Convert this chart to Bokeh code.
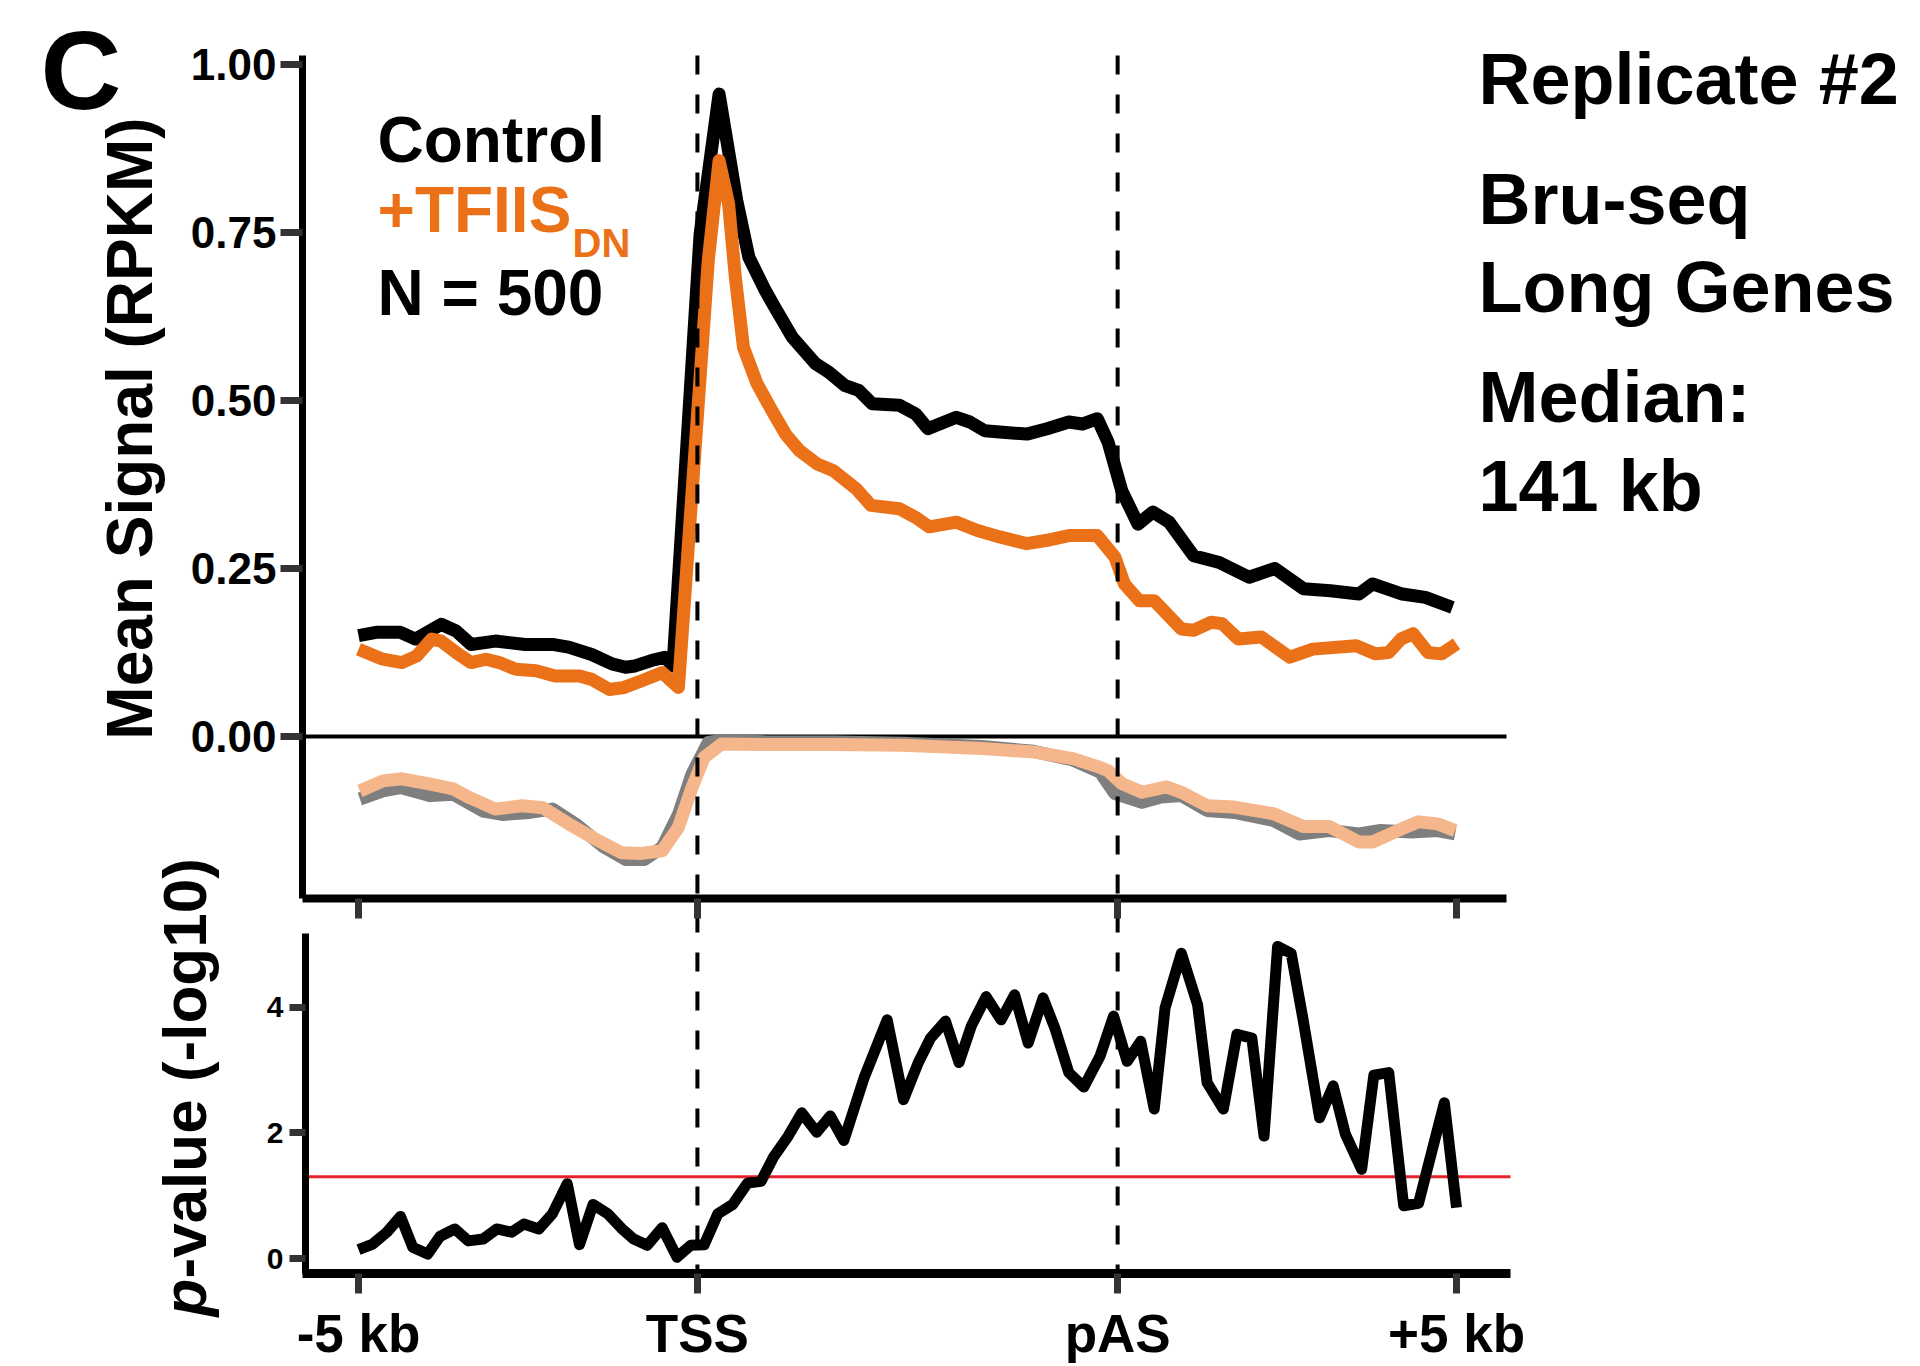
import math
from bokeh.plotting import figure
from bokeh.models import (Label, FixedTicker, Range1d, NumeralTickFormatter, LinearAxis)
from bokeh.embed import file_html
from bokeh.resources import INLINE

# ---------------- data ----------------
# x positions are metagene bins: -5 kb = 0, TSS = 25, pAS = 56, +5 kb = 81
tick_pos = [0, 25, 56, 81]
tick_labels = ["-5 kb", "TSS", "pAS", "+5 kb"]

ctrl_x = [0, 1.3, 3.1, 4.2, 6.1, 7.2, 8.3, 10.1, 12.3, 14.3, 15.5, 17.2, 18.7, 19.7, 20.4,
          21.6, 22.6, 23.2, 25.2, 26.6, 27.9, 28.8, 30.0, 30.7, 32.0, 33.7, 34.7, 35.9, 36.9,
          37.9, 39.9, 41.1, 42.0, 44.1, 45.1, 46.2, 47.3, 49.3, 50.8, 52.4, 53.4, 54.5, 55.3,
          56.3, 57.5, 58.6, 59.8, 61.6, 63.5, 65.7, 67.6, 69.7, 71.7, 73.8, 74.8, 77.0, 78.7, 80.7]
ctrl_y = [0.150, 0.155, 0.155, 0.145, 0.167, 0.157, 0.137, 0.142, 0.137, 0.137, 0.133, 0.122,
          0.108, 0.103, 0.105, 0.113, 0.118, 0.105, 0.748, 0.956, 0.798, 0.713, 0.664, 0.639,
          0.594, 0.555, 0.542, 0.522, 0.515, 0.495, 0.493, 0.480, 0.458, 0.475, 0.468, 0.455,
          0.453, 0.450, 0.458, 0.468, 0.465, 0.473, 0.438, 0.366, 0.316, 0.334, 0.319, 0.269,
          0.259, 0.237, 0.250, 0.220, 0.217, 0.212, 0.227, 0.212, 0.207, 0.192]

tfiis_x = [0, 1.8, 3.2, 4.3, 5.4, 6.1, 7.2, 8.3, 9.4, 10.4, 11.6, 13.1, 14.5, 16.3, 17.2, 18.5,
           19.6, 20.9, 22.4, 23.6, 25.8, 26.6, 27.3, 27.8, 28.4, 29.4, 30.5, 31.5, 32.5, 33.8,
           35.0, 36.7, 37.8, 39.9, 41.1, 42.1, 44.1, 45.6, 47.3, 49.3, 50.8, 52.4, 54.5, 55.8,
           56.5, 57.6, 58.7, 60.7, 61.6, 62.9, 63.7, 64.9, 66.6, 68.7, 70.4, 73.6, 75.0, 76.0,
           76.9, 77.8, 78.9, 79.9, 81.0]
tfiis_y = [0.130, 0.115, 0.110, 0.120, 0.145, 0.142, 0.125, 0.110, 0.115, 0.110, 0.100, 0.098,
           0.090, 0.090, 0.085, 0.070, 0.073, 0.083, 0.095, 0.073, 0.708, 0.857, 0.793, 0.683,
           0.579, 0.525, 0.485, 0.450, 0.426, 0.406, 0.396, 0.369, 0.344, 0.339, 0.326, 0.312,
           0.319, 0.307, 0.297, 0.287, 0.292, 0.299, 0.299, 0.267, 0.227, 0.202, 0.202, 0.160,
           0.158, 0.170, 0.168, 0.145, 0.148, 0.118, 0.130, 0.135, 0.123, 0.125, 0.145, 0.153,
           0.125, 0.123, 0.138]

ctrl_low_x = [0.1, 1.8, 3.1, 5.3, 7.0, 9.2, 10.6, 12.6, 14.3, 16.0, 18.0, 19.7, 21.1, 22.4,
              23.6, 24.6, 25.8, 26.8, 30.0, 35.0, 40.2, 46.0, 49.8, 52.7, 54.7, 55.8, 57.8,
              59.2, 60.7, 62.6, 64.6, 67.5, 69.4, 71.6, 73.8, 75.3, 77.7, 79.6, 80.9]
ctrl_low_y = [-0.093, -0.081, -0.076, -0.088, -0.086, -0.111, -0.116, -0.113, -0.108, -0.130,
              -0.163, -0.183, -0.183, -0.165, -0.116, -0.056, -0.009, -0.006, -0.008, -0.008,
              -0.010, -0.015, -0.022, -0.035, -0.053, -0.085, -0.098, -0.090, -0.088, -0.110,
              -0.113, -0.125, -0.145, -0.140, -0.145, -0.140, -0.142, -0.140, -0.145]

tfiis_low_x = [0.1, 1.8, 3.2, 5.3, 7.0, 8.2, 10.1, 12.1, 13.6, 15.5, 17.5, 19.4, 20.9, 22.4,
               23.6, 24.6, 25.5, 26.8, 30.0, 35.0, 40.2, 46.0, 49.8, 52.7, 54.7, 55.3, 56.3,
               57.8, 59.6, 60.7, 62.6, 64.6, 67.5, 69.7, 71.6, 73.8, 74.8, 77.0, 78.2, 79.6, 80.9]
tfiis_low_y = [-0.081, -0.066, -0.063, -0.071, -0.078, -0.091, -0.108, -0.103, -0.106, -0.130,
               -0.153, -0.173, -0.174, -0.170, -0.135, -0.076, -0.031, -0.011, -0.012, -0.012,
               -0.013, -0.018, -0.023, -0.033, -0.046, -0.051, -0.070, -0.083, -0.075, -0.083,
               -0.103, -0.105, -0.115, -0.134, -0.134, -0.157, -0.157, -0.137, -0.127, -0.130,
               -0.140]

pval_x = [0, 1.05, 2.1, 3.1, 4.0, 5.1, 6.0, 7.1, 8.1, 9.2, 10.2, 11.3, 12.2, 13.3, 14.3, 15.4,
          16.3, 17.3, 18.4, 19.4, 20.3, 21.3, 22.4, 23.5, 24.5, 25.5, 26.5, 27.6, 28.7, 29.7,
          30.6, 31.7, 32.7, 33.8, 34.8, 35.8, 37.3, 39.0, 40.2, 41.3, 42.2, 43.3, 44.3, 45.2,
          46.3, 47.4, 48.4, 49.4, 50.5, 51.4, 52.4, 53.5, 54.7, 55.7, 56.7, 57.7, 58.7, 59.5,
          60.7, 61.9, 62.6, 63.8, 64.8, 65.9, 66.8, 67.8, 68.8, 69.7, 70.9, 71.9, 72.8, 74.0,
          74.9, 76.0, 77.1, 78.2, 80.1, 81.0]
pval_y = [0.14, 0.23, 0.42, 0.67, 0.18, 0.07, 0.35, 0.47, 0.28, 0.31, 0.47, 0.42, 0.55, 0.47,
          0.71, 1.19, 0.22, 0.86, 0.71, 0.48, 0.31, 0.21, 0.49, 0.02, 0.21, 0.22, 0.71, 0.86,
          1.20, 1.23, 1.61, 1.95, 2.32, 2.01, 2.27, 1.88, 2.88, 3.80, 2.53, 3.12, 3.51, 3.78,
          3.12, 3.70, 4.17, 3.80, 4.20, 3.43, 4.15, 3.65, 2.96, 2.73, 3.22, 3.86, 3.14, 3.46,
          2.38, 3.99, 4.86, 4.04, 2.80, 2.38, 3.57, 3.51, 1.95, 4.97, 4.86, 3.78, 2.24, 2.75,
          1.98, 1.42, 2.92, 2.96, 0.84, 0.88, 2.48, 0.81]

p_threshold = -math.log10(0.05)
top_ticks = [0.0, 0.25, 0.5, 0.75, 1.0]
low_ticks = [0, 2, 4]

# ---------------- style / layout (page pixels) ----------------
FONT = "Liberation Sans"
ORANGE = "#EB7118"
PEACH = "#F4B68A"
GRAY = "#7F7F7F"
RED = "#E4202A"
TICK = "#333333"

W, H = 1920, 1366
X0, PXBIN = 358, 13.556          # page x of bin 0, pixels per bin
TOP_Y0, TOP_PPU = 736, 672       # page y of value 0 (top panel), px per unit
LOW_Y0, LOW_PPU = 1258, 62.8     # page y of value 0 (p-value panel), px per unit
FL = 302                         # left edge of both panels
TOP_T, TOP_B, TOP_R = 55, 898, 1506
LOW_T, LOW_B, LOW_R = 933, 1273, 1510
BASE_SHIFT = 0.36                # label baseline correction (fraction of font size)


def bx(px):
    return (px - X0) / PXBIN


def ty(py):
    return (TOP_Y0 - py) / TOP_PPU


def ly(py):
    return (LOW_Y0 - py) / LOW_PPU


p = figure(width=W, height=H, title=None,
           x_range=Range1d(bx(0), bx(W)), y_range=Range1d(ty(H), ty(0)),
           output_backend="svg", toolbar_location=None,
           x_axis_location=None, y_axis_location=None,
           min_border=0, min_border_left=0, min_border_right=0,
           min_border_top=0, min_border_bottom=0)
p.extra_y_ranges = {"low": Range1d(ly(H), ly(0))}
p.grid.visible = False
p.outline_line_color = None
p.background_fill_color = "white"
p.border_fill_color = "white"


def style_axis(ax, line_w, tick_out, label_size, standoff):
    ax.axis_line_color = "black"
    ax.axis_line_width = line_w
    ax.major_tick_line_color = TICK
    ax.major_tick_line_width = 7
    ax.major_tick_in = 0
    ax.major_tick_out = tick_out
    ax.minor_tick_line_color = None
    ax.major_label_text_font = FONT
    ax.major_label_text_font_style = "bold"
    ax.major_label_text_color = "black"
    ax.major_label_text_font_size = f"{label_size}px"
    ax.major_label_standoff = standoff


# top panel axes
ay1 = LinearAxis(fixed_location=bx(FL), bounds=(ty(TOP_B), ty(TOP_T)),
                 ticker=FixedTicker(ticks=top_ticks, minor_ticks=[]),
                 formatter=NumeralTickFormatter(format="0.00"))
style_axis(ay1, 7, 22, 44, 4)
p.add_layout(ay1, "left")

ax1 = LinearAxis(fixed_location=ty(TOP_B), bounds=(bx(FL), bx(TOP_R)),
                 ticker=FixedTicker(ticks=tick_pos, minor_ticks=[]))
style_axis(ax1, 8, 20, 10, 0)
ax1.major_label_text_color = None
p.add_layout(ax1, "below")

# p-value panel axes
ay2 = LinearAxis(y_range_name="low", fixed_location=bx(FL + 3),
                 bounds=(ly(LOW_B), ly(LOW_T)),
                 ticker=FixedTicker(ticks=low_ticks, minor_ticks=[]))
style_axis(ay2, 7, 16, 30, 6)
p.add_layout(ay2, "left")

ax2 = LinearAxis(fixed_location=ty(LOW_B), bounds=(bx(FL), bx(LOW_R)),
                 ticker=FixedTicker(ticks=tick_pos, minor_ticks=[]))
style_axis(ax2, 9, 20, 53, 10)
ax2.major_label_overrides = {k: v for k, v in zip(tick_pos, tick_labels)}
p.add_layout(ax2, "below")

# reference lines
p.segment(x0=[bx(FL)], y0=[0], x1=[bx(TOP_R)], y1=[0], line_color="black", line_width=4)
p.segment(x0=[bx(FL)], y0=[p_threshold], x1=[bx(LOW_R)], y1=[p_threshold],
          line_color=RED, line_width=3, y_range_name="low")

# series
p.line(ctrl_low_x, ctrl_low_y, line_color=GRAY, line_width=13, line_join="round")
p.line(tfiis_low_x, tfiis_low_y, line_color=PEACH, line_width=13, line_join="round")
p.line(ctrl_x, ctrl_y, line_color="black", line_width=13, line_join="round")
p.line(tfiis_x, tfiis_y, line_color=ORANGE, line_width=13, line_join="round")
p.line(pval_x, pval_y, line_color="black", line_width=11, line_join="round",
       y_range_name="low")

# TSS / pAS dashed guides through both panels
p.segment(x0=tick_pos[1:3], y0=[ty(TOP_T)] * 2, x1=tick_pos[1:3], y1=[ty(LOW_B)] * 2,
          line_color="black", line_width=4, line_dash="19 20")


def txt(px, py, text, size, color="black", style="bold", angle=0, align="left"):
    # (px, py): page position of the text's baseline start (or baseline centre)
    if angle:
        px = px - BASE_SHIFT * size
    else:
        py = py - BASE_SHIFT * size
    p.add_layout(Label(x=px, y=H - py, x_units="screen", y_units="screen", text=text,
                       text_font=FONT, text_font_size=f"{size}px",
                       text_font_style=style, text_color=color, angle=angle,
                       text_align=align, text_baseline="alphabetic"))


txt(40, 110, "C", 112)
txt(377, 163, "Control", 64)
txt(377, 233, "+TFIIS", 64, ORANGE)
txt(572, 257, "DN", 40, ORANGE)
txt(377, 316, "N = 500", 64)
for t, base in [("Replicate #2", 104), ("Bru-seq", 224), ("Long Genes", 312),
                ("Median:", 422), ("141 kb", 511)]:
    txt(1478, base, t, 72)
txt(153, 428, "Mean Signal (RPKM)", 64, angle=math.pi / 2, align="center")
txt(206, 1316, "p", 62, style="bold italic", angle=math.pi / 2)
txt(206, 1278, "-value (-log10)", 62, angle=math.pi / 2)

open("out.html", "w").write(file_html(p, INLINE))
